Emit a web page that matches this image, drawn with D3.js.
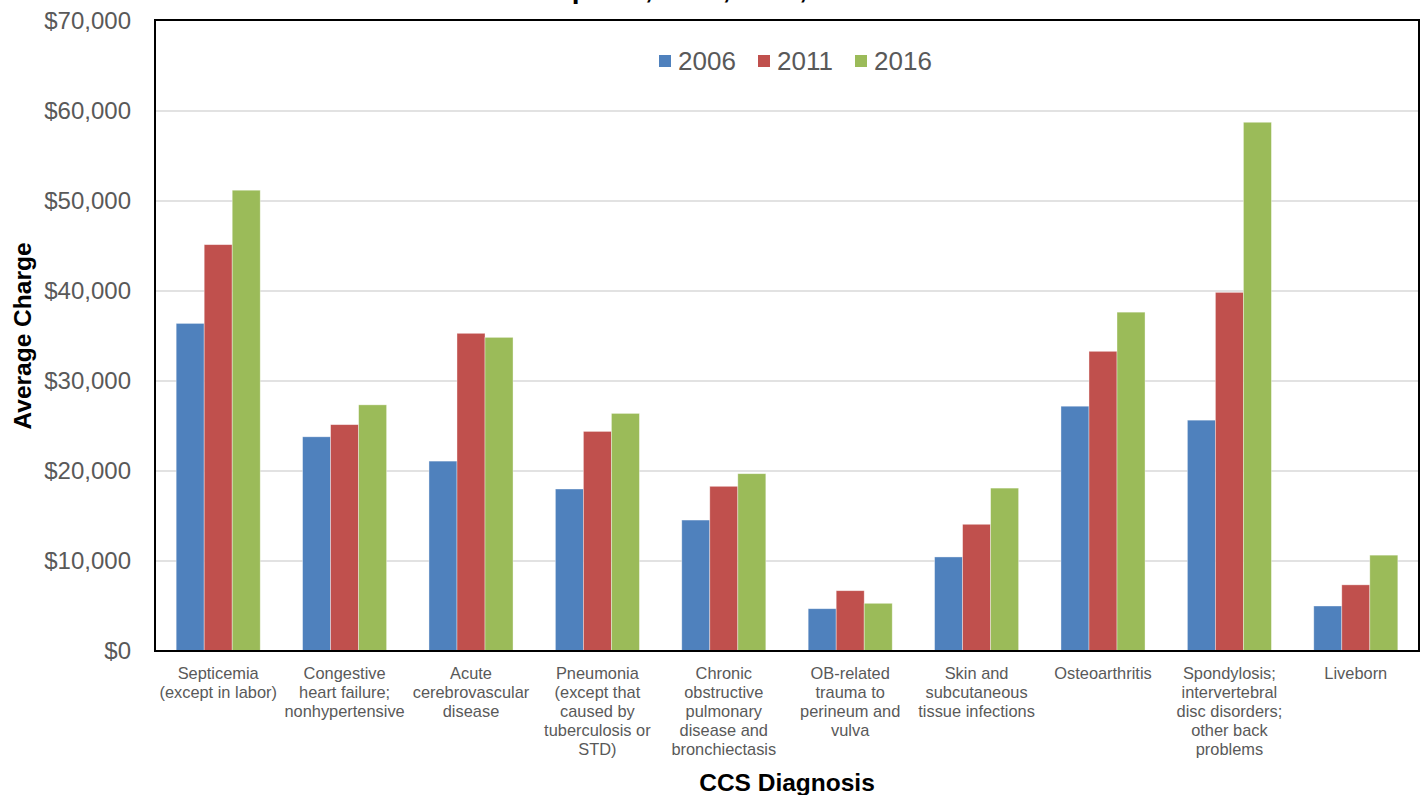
<!DOCTYPE html>
<html>
<head>
<meta charset="utf-8">
<script src="https://cdn.jsdelivr.net/npm/d3@7"></script>
<style>
  body { margin: 0; background: #fff; }
  svg { display: block; font-family: "Liberation Sans", Arial, sans-serif; }
</style>
</head>
<body>
<svg id="chart" width="1424" height="795"></svg>
<script>
// categories, each label split into lines as drawn
const categories = [
  ["Septicemia", "(except in labor)"],
  ["Congestive", "heart failure;", "nonhypertensive"],
  ["Acute", "cerebrovascular", "disease"],
  ["Pneumonia", "(except that", "caused by", "tuberculosis or", "STD)"],
  ["Chronic", "obstructive", "pulmonary", "disease and", "bronchiectasis"],
  ["OB-related", "trauma to", "perineum and", "vulva"],
  ["Skin and", "subcutaneous", "tissue infections"],
  ["Osteoarthritis"],
  ["Spondylosis;", "intervertebral", "disc disorders;", "other back", "problems"],
  ["Liveborn"]
];
const years = ["2006", "2011", "2016"];
const values2006 = [36400, 23800, 21100, 18000, 14550, 4700, 10450, 27200, 25650, 5000];
const values2011 = [45150, 25150, 35300, 24400, 18300, 6700, 14080, 33300, 39850, 7350];
const values2016 = [51200, 27350, 34850, 26400, 19700, 5300, 18100, 37650, 58750, 10650];
const yTicks = [0, 10000, 20000, 30000, 40000, 50000, 60000, 70000];
const colors = ["#4F81BD", "#C0504D", "#9BBB59"];

const series = [values2006, values2011, values2016];
const svg = d3.select("#chart");
const mLeft = 155, mRight = 1419, mTop = 21, mBottom = 651;

const x0 = d3.scaleBand()
  .domain(d3.range(categories.length))
  .range([mLeft, mRight])
  .paddingInner(0.335)
  .paddingOuter(0.1675);
const x1 = d3.scaleBand().domain(d3.range(years.length)).range([0, x0.bandwidth()]);
const y = d3.scaleLinear().domain([0, 70000]).range([mBottom, mTop]);

// title, mostly above the visible area (cut off in the original too)
svg.append("text")
  .attr("x", 877).attr("y", -2)
  .attr("text-anchor", "end")
  .style("font-size", "28px").style("font-weight", "bold")
  .text("Hospitals, 2006, 2011, 2016");

// gridlines
svg.append("g")
  .selectAll("line")
  .data(yTicks.slice(1, -1))
  .join("line")
  .attr("x1", mLeft).attr("x2", mRight)
  .attr("y1", d => y(d)).attr("y2", d => y(d))
  .attr("stroke", "#d9d9d9").attr("stroke-width", 1.5);

// y axis labels
const yAxis = d3.axisLeft(y).tickValues(yTicks).tickSize(0).tickPadding(24)
  .tickFormat(d => "$" + d3.format(",")(d));
svg.append("g")
  .attr("transform", `translate(${mLeft},0)`)
  .call(yAxis)
  .call(g => g.select(".domain").remove())
  .selectAll("text")
  .style("font-size", "24px").style("fill", "#595959")
  .style("font-family", "Liberation Sans, Arial, sans-serif");

// bars
const groups = svg.append("g")
  .selectAll("g")
  .data(categories.map((c, i) => i))
  .join("g")
  .attr("transform", i => `translate(${x0(i)},0)`);

groups.selectAll("rect")
  .data(i => series.map((s, k) => ({ k, v: s[i] })))
  .join("rect")
  .attr("x", d => x1(d.k))
  .attr("width", x1.bandwidth())
  .attr("y", d => y(d.v))
  .attr("height", d => y(0) - y(d.v))
  .attr("fill", d => colors[d.k])
  .attr("stroke", "#ffffff").attr("stroke-opacity", 0.5).attr("stroke-width", 0.75);

// frame
svg.append("rect")
  .attr("x", mLeft).attr("y", mTop - 1)
  .attr("width", mRight - mLeft).attr("height", mBottom - mTop + 1)
  .attr("fill", "none").attr("stroke", "#000").attr("stroke-width", 2);

// category labels
const labels = svg.append("g")
  .selectAll("text")
  .data(categories)
  .join("text")
  .attr("text-anchor", "middle")
  .attr("x", (d, i) => x0(i) + x0.bandwidth() / 2)
  .attr("y", 679)
  .style("font-size", "16.4px").style("fill", "#595959");
labels.selectAll("tspan")
  .data(d => d)
  .join("tspan")
  .attr("x", function () { return d3.select(this.parentNode).attr("x"); })
  .attr("dy", (d, i) => i === 0 ? 0 : 19)
  .text(d => d);

// axis titles
svg.append("text")
  .attr("x", (mLeft + mRight) / 2).attr("y", 791)
  .attr("text-anchor", "middle")
  .style("font-size", "24.5px").style("font-weight", "bold")
  .text("CCS Diagnosis");

svg.append("text")
  .attr("transform", `translate(31,${(mTop + mBottom) / 2}) rotate(-90)`)
  .attr("text-anchor", "middle")
  .style("font-size", "24.5px").style("font-weight", "bold")
  .text("Average Charge");

// legend
const legendX = [659, 758, 855];
const legend = svg.append("g")
  .selectAll("g")
  .data(years)
  .join("g")
  .attr("transform", (d, i) => `translate(${legendX[i]},55)`);
legend.append("rect")
  .attr("width", 12).attr("height", 12)
  .attr("fill", (d, i) => colors[i]);
legend.append("text")
  .attr("x", 19).attr("y", 15)
  .style("font-size", "26px").style("fill", "#595959")
  .text(d => d);
</script>
</body>
</html>
